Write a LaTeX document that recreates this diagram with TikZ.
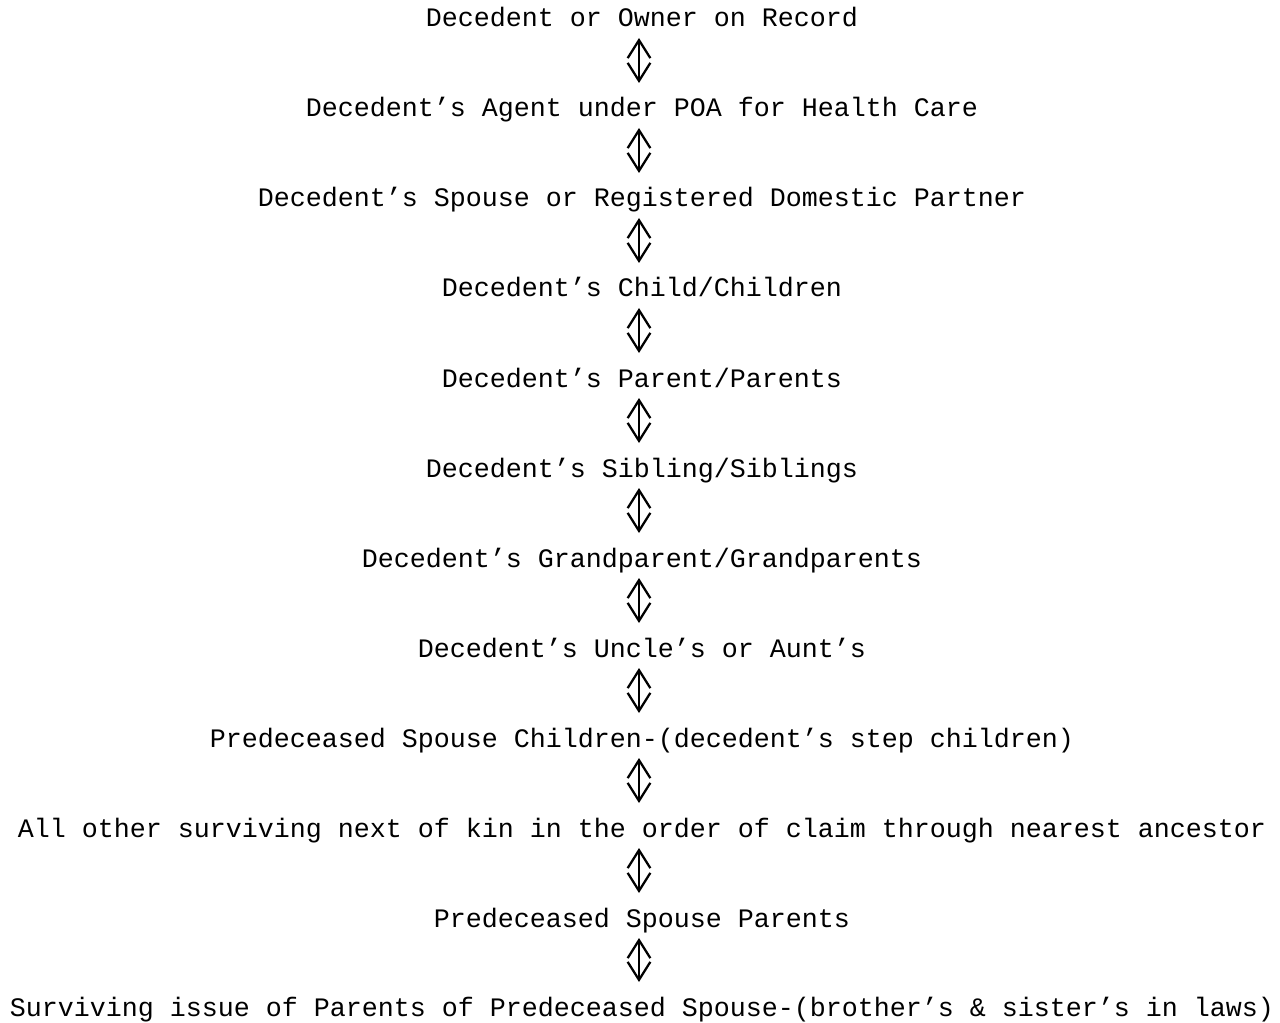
\documentclass[tikz,border=0pt]{standalone}
\usepackage{fontspec}
\setmonofont{Liberation Mono}
\usetikzlibrary{arrows.meta}
\begin{document}
\begin{tikzpicture}[x=0.75pt, y=-0.75pt,
    entry/.style={anchor=base, inner sep=0pt, outer sep=0pt, text height=25.5pt, text depth=8.25pt, font=\fontsize{20}{24}\selectfont\ttfamily},
    link/.style={line width=1.7pt, {Straight Barb[length=13.5pt, width=17pt, line width=1.7pt]}-{Straight Barb[length=13.5pt, width=17pt, line width=1.7pt]}}]
    \useasboundingbox (0,0) rectangle (1280,1023);
    % order of priority, top to bottom
    \node[entry] (r1) at (642,27) {Decedent or Owner on Record};
    \node[entry] (r2) at (642,117) {Decedent’s Agent under POA for Health Care};
    \node[entry] (r3) at (642,207) {Decedent’s Spouse or Registered Domestic Partner};
    \node[entry] (r4) at (642,297) {Decedent’s Child/Children};
    \node[entry] (r5) at (642,387) {Decedent’s Parent/Parents};
    \node[entry] (r6) at (642,477) {Decedent’s Sibling/Siblings};
    \node[entry] (r7) at (642,567) {Decedent’s Grandparent/Grandparents};
    \node[entry] (r8) at (642,657) {Decedent’s Uncle’s or Aunt’s};
    \node[entry] (r9) at (642,747) {Predeceased Spouse Children-(decedent’s step children)};
    \node[entry] (r10) at (642,837) {All other surviving next of kin in the order of claim through nearest ancestor};
    \node[entry] (r11) at (642,927) {Predeceased Spouse Parents};
    \node[entry] (r12) at (642,1016) {Surviving issue of Parents of Predeceased Spouse-(brother’s \& sister’s in laws)};
    % double headed links
    \foreach \i [evaluate=\i as \j using int(\i+1)] in {1,...,11}
        \draw[link] ([xshift=-2.25pt]r\i.south) -- ([xshift=-2.25pt]r\j.north);
\end{tikzpicture}
\end{document}
